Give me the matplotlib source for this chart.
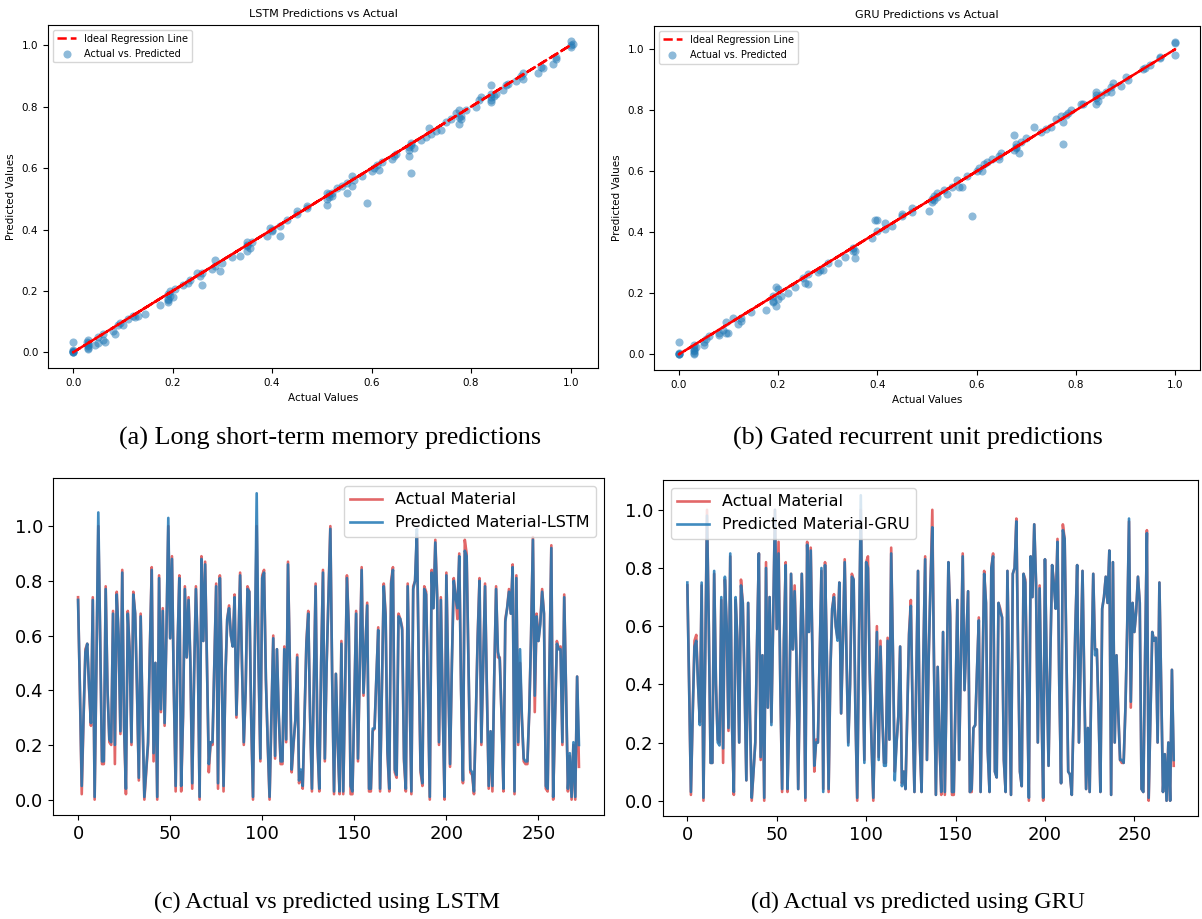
import numpy as np
import matplotlib
matplotlib.use("Agg")
import matplotlib.pyplot as plt

# test-set series (index = sample number)
actual = [0.74, 0.40, 0.02, 0.30, 0.55, 0.57, 0.40, 0.27, 0.74, 0.00,
          0.50, 1.00, 0.60, 0.13, 0.13, 0.78, 0.40, 0.21, 0.20, 0.69,
          0.13, 0.76, 0.60, 0.24, 0.84, 0.26, 0.02, 0.69, 0.55, 0.20,
          0.76, 0.68, 0.40, 0.07, 0.68, 0.30, 0.00, 0.10, 0.20, 0.55,
          0.85, 0.14, 0.50, 0.00, 0.82, 0.32, 0.70, 0.27, 0.62, 1.00,
          0.59, 0.89, 0.40, 0.03, 0.55, 0.82, 0.03, 0.30, 0.78, 0.52,
          0.74, 0.50, 0.04, 0.45, 0.78, 0.55, 0.00, 0.89, 0.58, 0.87,
          0.50, 0.10, 0.21, 0.20, 0.50, 0.79, 0.04, 0.82, 0.50, 0.03,
          0.45, 0.66, 0.71, 0.60, 0.56, 0.75, 0.30, 0.55, 0.83, 0.50,
          0.20, 0.40, 0.78, 0.76, 0.30, 0.00, 0.55, 1.00, 0.50, 0.14,
          0.82, 0.84, 0.44, 0.20, 0.00, 0.30, 0.60, 0.15, 0.55, 0.30,
          0.13, 0.13, 0.56, 0.21, 0.87, 0.50, 0.10, 0.20, 0.29, 0.53,
          0.06, 0.10, 0.04, 0.30, 0.58, 0.69, 0.30, 0.03, 0.40, 0.79,
          0.20, 0.03, 0.50, 0.84, 0.14, 0.50, 0.75, 1.00, 0.44, 0.02,
          0.46, 0.20, 0.02, 0.58, 0.02, 0.40, 0.82, 0.64, 0.02, 0.02,
          0.35, 0.69, 0.14, 0.50, 0.85, 0.38, 0.55, 0.72, 0.03, 0.03,
          0.25, 0.26, 0.45, 0.63, 0.03, 0.40, 0.79, 0.68, 0.17, 0.03,
          0.80, 0.85, 0.10, 0.08, 0.68, 0.66, 0.63, 0.14, 0.03, 0.79,
          0.40, 0.02, 0.78, 0.80, 0.97, 0.50, 0.10, 0.05, 0.78, 0.76,
          0.40, 0.00, 0.84, 0.70, 0.95, 0.75, 0.20, 0.74, 0.35, 0.00,
          0.83, 0.45, 0.12, 0.50, 0.81, 0.75, 0.66, 0.90, 0.40, 0.06,
          0.95, 0.90, 0.50, 0.10, 0.09, 0.02, 0.30, 0.60, 0.81, 0.20,
          0.50, 0.79, 0.40, 0.04, 0.25, 0.03, 0.45, 0.78, 0.52, 0.52,
          0.30, 0.03, 0.66, 0.70, 0.77, 0.68, 0.86, 0.02, 0.82, 0.20,
          0.50, 0.30, 0.14, 0.13, 0.13, 0.32, 0.60, 0.96, 0.32, 0.68,
          0.58, 0.65, 0.77, 0.68, 0.04, 0.03, 0.50, 0.93, 0.00, 0.30,
          0.58, 0.55, 0.56, 0.20, 0.75, 0.40, 0.03, 0.16, 0.00, 0.20,
          0.00, 0.45, 0.12]

lstm_pred = [0.73, 0.41, 0.05, 0.31, 0.54, 0.57, 0.41, 0.28, 0.73, 0.01,
             0.51, 1.05, 0.59, 0.14, 0.14, 0.77, 0.40, 0.22, 0.21, 0.68,
             0.20, 0.75, 0.60, 0.25, 0.83, 0.27, 0.04, 0.68, 0.54, 0.21,
             0.75, 0.68, 0.41, 0.08, 0.67, 0.31, 0.01, 0.11, 0.21, 0.55,
             0.84, 0.17, 0.50, 0.01, 0.81, 0.33, 0.69, 0.28, 0.61, 1.03,
             0.59, 0.88, 0.41, 0.05, 0.55, 0.81, 0.05, 0.31, 0.77, 0.52,
             0.73, 0.50, 0.06, 0.45, 0.77, 0.55, 0.01, 0.88, 0.58, 0.86,
             0.50, 0.13, 0.21, 0.21, 0.50, 0.78, 0.06, 0.81, 0.50, 0.05,
             0.45, 0.66, 0.70, 0.60, 0.56, 0.74, 0.31, 0.55, 0.82, 0.50,
             0.21, 0.40, 0.77, 0.76, 0.31, 0.01, 0.55, 1.12, 0.50, 0.15,
             0.81, 0.83, 0.44, 0.21, 0.01, 0.31, 0.59, 0.16, 0.55, 0.31,
             0.14, 0.14, 0.55, 0.22, 0.86, 0.50, 0.11, 0.21, 0.29, 0.52,
             0.07, 0.11, 0.05, 0.31, 0.57, 0.68, 0.31, 0.04, 0.40, 0.78,
             0.21, 0.04, 0.50, 0.83, 0.15, 0.50, 0.74, 0.99, 0.44, 0.03,
             0.46, 0.21, 0.03, 0.57, 0.03, 0.40, 0.81, 0.63, 0.05, 0.03,
             0.35, 0.68, 0.15, 0.50, 0.84, 0.39, 0.55, 0.71, 0.04, 0.04,
             0.26, 0.26, 0.45, 0.62, 0.04, 0.40, 0.78, 0.67, 0.18, 0.04,
             0.79, 0.84, 0.11, 0.09, 0.67, 0.66, 0.62, 0.15, 0.04, 0.78,
             0.40, 0.03, 0.77, 0.80, 0.99, 0.50, 0.11, 0.06, 0.77, 0.75,
             0.40, 0.01, 0.83, 0.70, 0.94, 0.74, 0.21, 0.73, 0.35, 0.01,
             0.82, 0.45, 0.13, 0.50, 0.80, 0.74, 0.70, 0.89, 0.40, 0.07,
             0.91, 0.89, 0.50, 0.11, 0.10, 0.03, 0.30, 0.59, 0.80, 0.21,
             0.50, 0.78, 0.40, 0.05, 0.25, 0.05, 0.45, 0.77, 0.54, 0.51,
             0.30, 0.04, 0.65, 0.70, 0.76, 0.68, 0.85, 0.03, 0.81, 0.21,
             0.55, 0.30, 0.15, 0.14, 0.14, 0.32, 0.60, 0.95, 0.38, 0.67,
             0.58, 0.64, 0.76, 0.68, 0.05, 0.04, 0.50, 0.92, 0.01, 0.30,
             0.57, 0.55, 0.55, 0.21, 0.74, 0.40, 0.04, 0.17, 0.01, 0.21,
             0.01, 0.45, 0.20]

gru_pred = [0.75, 0.40, 0.03, 0.30, 0.53, 0.55, 0.40, 0.26, 0.75, 0.01,
            0.50, 0.98, 0.60, 0.13, 0.13, 0.79, 0.40, 0.20, 0.19, 0.70,
            0.18, 0.77, 0.60, 0.25, 0.85, 0.26, 0.03, 0.70, 0.55, 0.20,
            0.74, 0.68, 0.40, 0.07, 0.68, 0.30, 0.01, 0.10, 0.20, 0.55,
            0.85, 0.15, 0.50, 0.01, 0.80, 0.32, 0.70, 0.26, 0.62, 1.00,
            0.59, 0.85, 0.40, 0.04, 0.55, 0.81, 0.04, 0.30, 0.78, 0.52,
            0.72, 0.50, 0.04, 0.45, 0.78, 0.55, 0.01, 0.88, 0.58, 0.86,
            0.50, 0.12, 0.20, 0.20, 0.50, 0.80, 0.03, 0.81, 0.50, 0.04,
            0.45, 0.66, 0.70, 0.60, 0.55, 0.75, 0.30, 0.55, 0.82, 0.50,
            0.19, 0.40, 0.77, 0.76, 0.30, 0.01, 0.55, 1.05, 0.50, 0.13,
            0.82, 0.80, 0.44, 0.20, 0.01, 0.30, 0.58, 0.14, 0.53, 0.30,
            0.12, 0.12, 0.55, 0.21, 0.85, 0.50, 0.07, 0.20, 0.29, 0.53,
            0.05, 0.10, 0.04, 0.30, 0.57, 0.67, 0.30, 0.03, 0.40, 0.79,
            0.20, 0.03, 0.50, 0.83, 0.14, 0.50, 0.75, 0.94, 0.44, 0.02,
            0.46, 0.20, 0.03, 0.58, 0.03, 0.40, 0.82, 0.63, 0.03, 0.03,
            0.35, 0.69, 0.14, 0.50, 0.84, 0.38, 0.55, 0.72, 0.03, 0.04,
            0.25, 0.26, 0.45, 0.62, 0.03, 0.40, 0.78, 0.68, 0.17, 0.03,
            0.80, 0.84, 0.10, 0.08, 0.68, 0.65, 0.63, 0.14, 0.03, 0.79,
            0.40, 0.02, 0.78, 0.80, 0.96, 0.50, 0.10, 0.05, 0.78, 0.75,
            0.40, 0.01, 0.84, 0.70, 0.95, 0.75, 0.20, 0.73, 0.35, 0.01,
            0.83, 0.45, 0.12, 0.50, 0.81, 0.74, 0.66, 0.89, 0.40, 0.06,
            0.93, 0.90, 0.50, 0.10, 0.09, 0.02, 0.30, 0.60, 0.81, 0.20,
            0.50, 0.79, 0.40, 0.04, 0.25, 0.03, 0.45, 0.78, 0.50, 0.52,
            0.30, 0.03, 0.66, 0.70, 0.77, 0.68, 0.86, 0.02, 0.82, 0.20,
            0.50, 0.30, 0.14, 0.14, 0.13, 0.32, 0.60, 0.97, 0.34, 0.68,
            0.58, 0.65, 0.77, 0.68, 0.04, 0.03, 0.50, 0.92, 0.01, 0.30,
            0.58, 0.55, 0.56, 0.20, 0.75, 0.40, 0.03, 0.16, 0.00, 0.20,
            0.00, 0.45, 0.14]

# scatter points (actual, predicted) (a) and (b)
lstm_sc_x = [0.00, 0.00, 0.00, 0.00, 0.00, 0.00, 0.03, 0.03, 0.03, 0.03, 0.03, 0.028, 0.03,
             0.045, 0.05, 0.05, 0.06, 0.06, 0.065, 0.08, 0.085, 0.09, 0.095, 0.10,
             0.11, 0.12, 0.125, 0.13, 0.145, 0.175, 0.19, 0.19, 0.195, 0.19, 0.195, 0.20, 0.205, 0.19,
             0.22, 0.23, 0.235, 0.25, 0.255, 0.26, 0.26, 0.28, 0.285, 0.285, 0.295, 0.30, 0.32, 0.335,
             0.35, 0.35, 0.35, 0.355, 0.36, 0.35, 0.39, 0.395, 0.40, 0.40, 0.415, 0.415, 0.43,
             0.45, 0.45, 0.47, 0.47,
             0.51, 0.51, 0.51, 0.515, 0.52, 0.52, 0.53, 0.54, 0.55, 0.55, 0.56, 0.56, 0.565, 0.58, 0.59, 0.515,
             0.60, 0.605, 0.61, 0.615, 0.62, 0.64, 0.645, 0.65,
             0.675, 0.675, 0.675, 0.68, 0.68, 0.685, 0.70, 0.71, 0.68,
             0.715, 0.72, 0.73, 0.74, 0.75, 0.76, 0.77, 0.775, 0.775, 0.78, 0.78, 0.79, 0.775,
             0.81, 0.815, 0.82, 0.84, 0.84, 0.84, 0.84, 0.845, 0.85, 0.84,
             0.865, 0.87, 0.875, 0.89, 0.90, 0.905, 0.905, 0.935, 0.94, 0.945,
             0.965, 0.97, 0.97, 1.00, 1.00, 1.00, 1.005]
lstm_sc_y = [0.00, 0.005, 0.035, 0.002, 0.008, 0.00, 0.01, 0.02, 0.03, 0.04, 0.015, 0.035, 0.025,
             0.025, 0.03, 0.05, 0.04, 0.06, 0.035, 0.07, 0.06, 0.09, 0.095, 0.09,
             0.11, 0.12, 0.115, 0.12, 0.125, 0.155, 0.17, 0.19, 0.20, 0.165, 0.185, 0.18, 0.205, 0.175,
             0.22, 0.225, 0.235, 0.26, 0.25, 0.22, 0.26, 0.27, 0.30, 0.28, 0.265, 0.29, 0.31, 0.315,
             0.33, 0.35, 0.36, 0.34, 0.36, 0.345, 0.38, 0.405, 0.395, 0.40, 0.38, 0.41, 0.43,
             0.46, 0.45, 0.47, 0.475,
             0.50, 0.48, 0.52, 0.515, 0.51, 0.52, 0.535, 0.54, 0.52, 0.55, 0.54, 0.575, 0.56, 0.575, 0.485, 0.505,
             0.59, 0.60, 0.61, 0.595, 0.62, 0.63, 0.64, 0.645,
             0.66, 0.67, 0.64, 0.68, 0.585, 0.665, 0.69, 0.70, 0.675,
             0.73, 0.71, 0.72, 0.725, 0.75, 0.76, 0.78, 0.79, 0.745, 0.76, 0.77, 0.79, 0.765,
             0.80, 0.82, 0.83, 0.87, 0.84, 0.82, 0.815, 0.835, 0.84, 0.83,
             0.855, 0.87, 0.875, 0.885, 0.90, 0.91, 0.89, 0.91, 0.93, 0.925,
             0.94, 0.955, 0.96, 1.00, 1.015, 0.995, 1.005]

gru_sc_x = [0.00, 0.00, 0.00, 0.00, 0.00, 0.03, 0.03, 0.03, 0.03, 0.035, 0.03, 0.03,
            0.05, 0.05, 0.055, 0.06, 0.08, 0.08, 0.09, 0.095, 0.095, 0.10, 0.11,
            0.12, 0.125, 0.125, 0.145, 0.175, 0.19, 0.19, 0.195, 0.195, 0.20, 0.20, 0.205, 0.22, 0.19,
            0.235, 0.25, 0.26, 0.26, 0.255, 0.28, 0.285, 0.29, 0.30, 0.32, 0.335,
            0.35, 0.35, 0.355, 0.355, 0.39, 0.395, 0.40, 0.40, 0.415, 0.415, 0.43,
            0.45, 0.45, 0.47, 0.47,
            0.505, 0.51, 0.51, 0.515, 0.52, 0.52, 0.535, 0.54, 0.55, 0.56, 0.565, 0.57, 0.58, 0.59, 0.515,
            0.60, 0.605, 0.61, 0.615, 0.62, 0.63, 0.645, 0.645, 0.65,
            0.675, 0.675, 0.68, 0.68, 0.685, 0.69, 0.70, 0.68,
            0.715, 0.73, 0.74, 0.75, 0.76, 0.77, 0.775, 0.775, 0.78, 0.785, 0.79,
            0.81, 0.815, 0.84, 0.84, 0.84, 0.845, 0.85, 0.86, 0.84,
            0.87, 0.87, 0.875, 0.89, 0.90, 0.905, 0.935, 0.94, 0.95,
            0.97, 0.97, 1.00, 1.00, 1.00]
gru_sc_y = [0.00, 0.005, 0.04, 0.002, 0.00, 0.00, 0.01, 0.02, 0.03, 0.025, 0.005, 0.015,
            0.04, 0.03, 0.05, 0.06, 0.065, 0.07, 0.08, 0.07, 0.105, 0.07, 0.12,
            0.10, 0.12, 0.11, 0.14, 0.145, 0.17, 0.19, 0.16, 0.22, 0.215, 0.18, 0.19, 0.20, 0.175,
            0.22, 0.25, 0.23, 0.265, 0.235, 0.27, 0.275, 0.275, 0.30, 0.30, 0.32,
            0.34, 0.35, 0.315, 0.34, 0.38, 0.44, 0.44, 0.405, 0.41, 0.43, 0.42,
            0.46, 0.455, 0.48, 0.465,
            0.47, 0.51, 0.50, 0.52, 0.53, 0.515, 0.54, 0.525, 0.55, 0.57, 0.55, 0.55, 0.585, 0.455, 0.505,
            0.60, 0.61, 0.60, 0.625, 0.63, 0.64, 0.65, 0.64, 0.66,
            0.72, 0.67, 0.68, 0.69, 0.66, 0.695, 0.71, 0.675,
            0.745, 0.73, 0.74, 0.745, 0.77, 0.78, 0.76, 0.69, 0.785, 0.79, 0.80,
            0.82, 0.82, 0.85, 0.86, 0.82, 0.83, 0.85, 0.86, 0.84,
            0.875, 0.86, 0.89, 0.88, 0.91, 0.90, 0.935, 0.94, 0.95,
            0.97, 0.975, 1.02, 1.025, 0.98]

captions = ["(a) Long short-term memory predictions",
            "(b) Gated recurrent unit predictions",
            "(c) Actual vs predicted using LSTM",
            "(d) Actual vs predicted using GRU"]

fig = plt.figure(figsize=(12.02, 9.19), dpi=100)

# --- top row: scatter plots ---
small = 7.5
for pos, sx, sy, title in [([0.040, 0.5996, 0.4576, 0.3732], lstm_sc_x, lstm_sc_y, "LSTM Predictions vs Actual"),
                           ([0.5441, 0.5974, 0.4542, 0.3743], gru_sc_x, gru_sc_y, "GRU Predictions vs Actual")]:
    ax = fig.add_axes(pos)
    ax.plot(actual, actual, "r--", lw=1.8, zorder=3, label="Ideal Regression Line")
    ax.scatter(sx, sy, alpha=0.5, s=34, color="tab:blue", linewidths=0, zorder=2, label="Actual vs. Predicted")
    ax.set_title(title, fontsize=8)
    ax.set_xlabel("Actual Values", fontsize=small)
    ax.set_ylabel("Predicted Values", fontsize=small)
    ax.tick_params(labelsize=small)
    ax.legend(loc="upper left", fontsize=7)

# --- bottom row: time series ---
x = np.arange(len(actual))
for pos, pred, lab, loc in [([0.0441, 0.1132, 0.4584, 0.3667], lstm_pred, "Predicted Material-LSTM", "upper right"),
                            ([0.5516, 0.1121, 0.4451, 0.3656], gru_pred, "Predicted Material-GRU", "upper left")]:
    ax = fig.add_axes(pos)
    ax.plot(x, actual, color="tab:red", alpha=0.7, lw=1.9, label="Actual Material")
    ax.plot(x, pred, color="tab:blue", alpha=0.85, lw=1.9, label=lab)
    ax.set_xticks([0, 50, 100, 150, 200, 250])
    ax.tick_params(labelsize=13)
    ax.legend(loc=loc, fontsize=11.5)

# captions
serif = "Liberation Serif"
fig.text(0.275, 1 - 438 / 919, captions[0], family=serif, fontsize=18.8, ha="center", va="center")
fig.text(0.764, 1 - 438 / 919, captions[1], family=serif, fontsize=18.8, ha="center", va="center")
fig.text(0.272, 1 - 902 / 919, captions[2], family=serif, fontsize=17.3, ha="center", va="center")
fig.text(0.764, 1 - 902 / 919, captions[3], family=serif, fontsize=17.3, ha="center", va="center")

fig.savefig("out.png", dpi=100)
